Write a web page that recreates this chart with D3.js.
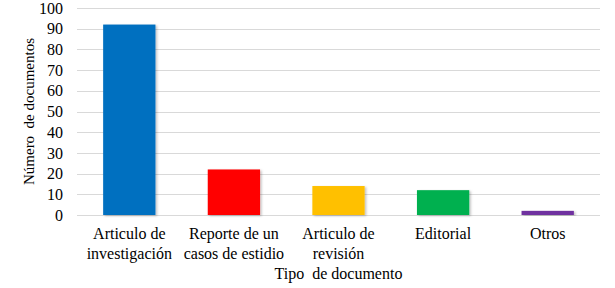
<!DOCTYPE html>
<html>
<head>
<meta charset="utf-8">
<script src="https://cdn.jsdelivr.net/npm/d3@7"></script>
</head>
<body style="margin:0;background:#fff">
<div id="chart"></div>
<script>
const categories = [
    ["Articulo de", "investigación"],
    ["Reporte de un", "casos de estidio"],
    ["Articulo de", "revisión"],
    ["Editorial"],
    ["Otros"]
];
const values = [92, 22, 14, 12, 2];
const colors = ["#0070c0", "#ff0000", "#ffc000", "#00b050", "#7030a0"];
const yTicks = [0, 10, 20, 30, 40, 50, 60, 70, 80, 90, 100];

const width = 615, height = 288;
const margin = { top: 8, right: 15, bottom: 73, left: 77 };
const innerW = width - margin.left - margin.right;
const innerH = height - margin.top - margin.bottom;
const serif = '"Liberation Serif"';

const svg = d3.select("#chart").append("svg")
    .attr("width", width)
    .attr("height", height);

const defs = svg.append("defs");
const shadow = defs.append("filter").attr("id", "shadow")
    .attr("x", "-10%").attr("y", "-10%").attr("width", "130%").attr("height", "130%");
shadow.append("feDropShadow")
    .attr("dx", 1.5).attr("dy", 1).attr("stdDeviation", 1)
    .attr("flood-color", "#000").attr("flood-opacity", 0.25);

const g = svg.append("g").attr("transform", `translate(${margin.left},${margin.top})`);

const x = d3.scaleBand()
    .domain(d3.range(categories.length))
    .range([0, innerW])
    .paddingInner(0.5)
    .paddingOuter(0.25);

const y = d3.scaleLinear().domain([0, 100]).range([innerH, 0]);

// gridlines
g.append("g")
    .selectAll("line")
    .data(yTicks)
    .join("line")
        .attr("x1", 0).attr("x2", innerW)
        .attr("y1", d => Math.round(y(d)) + 0.5)
        .attr("y2", d => Math.round(y(d)) + 0.5)
        .attr("stroke", "#d9d9d9")
        .attr("stroke-width", 1);

// y axis labels
const yAxis = g.append("g")
    .call(d3.axisLeft(y).tickValues(yTicks).tickSize(0).tickPadding(14));
yAxis.select(".domain").remove();
yAxis.selectAll("text")
    .style("font-family", serif)
    .style("font-size", "16px")
    .style("fill", "#000");

// bars
g.append("g")
    .selectAll("rect")
    .data(values)
    .join("rect")
        .attr("x", (d, i) => x(i))
        .attr("width", x.bandwidth())
        .attr("y", d => y(d))
        .attr("height", d => innerH - y(d))
        .attr("fill", (d, i) => colors[i])
        .attr("filter", "url(#shadow)");

// x category labels
const xl = g.append("g")
    .selectAll("text")
    .data(categories)
    .join("text")
        .attr("text-anchor", "middle")
        .attr("x", (d, i) => x(i) + x.bandwidth() / 2)
        .attr("y", innerH + 24)
        .style("font-family", serif)
        .style("font-size", "16px");
xl.selectAll("tspan")
    .data(d => d)
    .join("tspan")
        .attr("x", function () { return d3.select(this.parentNode).attr("x"); })
        .attr("dy", (d, i) => i === 0 ? 0 : 20)
        .text(d => d);

// axis titles
svg.append("text")
    .attr("text-anchor", "middle")
    .attr("x", margin.left + innerW / 2)
    .attr("y", 279)
    .style("font-family", serif)
    .style("font-size", "16px")
    .style("white-space", "pre")
    .text("Tipo  de documento");

svg.append("text")
    .attr("text-anchor", "middle")
    .attr("transform", `translate(34,${margin.top + innerH / 2}) rotate(-90)`)
    .style("font-family", serif)
    .style("font-size", "15px")
    .style("white-space", "pre")
    .text("Número  de documentos");
</script>
</body>
</html>
